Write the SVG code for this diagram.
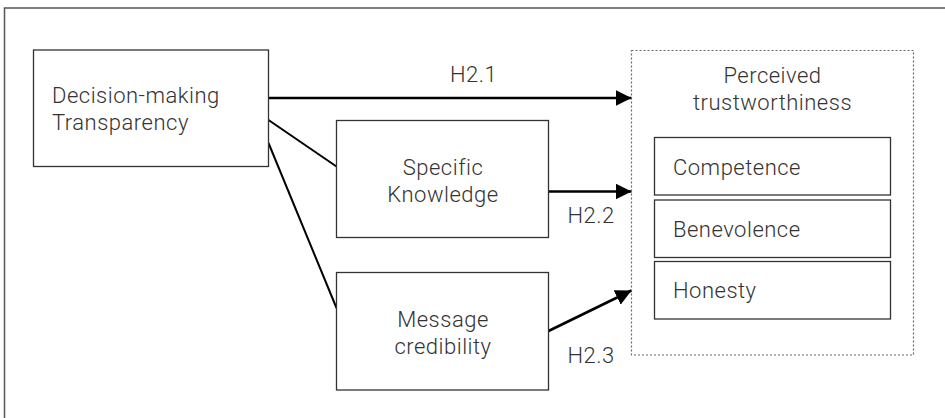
<svg xmlns="http://www.w3.org/2000/svg" width="945" height="418" viewBox="0 0 945 418">
  <style>
    .frame { fill: none; stroke: #555; stroke-width: 1.5; }
    .box { fill: #fff; stroke: #333; stroke-width: 1.3; }
    .group { fill: none; stroke: #666; stroke-width: 1.2; stroke-dasharray: 2 2; }
    .label { font-family: Roboto, "Liberation Sans", sans-serif; font-weight: 300; font-size: 22px; letter-spacing: 0.5px; fill: #333; }
    .mid { text-anchor: middle; }
    .link { fill: none; stroke: #000; stroke-width: 2; }
    .arrow { fill: none; stroke: #000; stroke-width: 2.6; }
  </style>
  <defs>
    <marker id="head" viewBox="0 0 16 16" refX="16" refY="8" markerWidth="16" markerHeight="16" markerUnits="userSpaceOnUse" orient="auto">
      <path d="M0,0 L16,8 L0,16 Z" fill="#000"/>
    </marker>
  </defs>

  <!-- page frame (top and left edges) -->
  <path class="frame" d="M4.5,418 V8 H945"/>

  <g id="connectors">
    <line class="link" x1="268.5" y1="120" x2="336.5" y2="166.5"/>
    <line class="link" x1="268.5" y1="143" x2="336.5" y2="308"/>
    <line class="arrow" x1="268.5" y1="98" x2="631.5" y2="98" marker-end="url(#head)"/>
    <line class="arrow" x1="548.5" y1="191.5" x2="631.5" y2="191.5" marker-end="url(#head)"/>
    <line class="arrow" x1="547.5" y1="331.5" x2="631.5" y2="290.5" marker-end="url(#head)"/>
    <text class="label" x="450" y="81.5">H2.1</text>
    <text class="label" x="567.5" y="223">H2.2</text>
    <text class="label" x="567.5" y="363">H2.3</text>
  </g>

  <g id="decision-transparency">
    <rect class="box" x="33.5" y="50" width="235" height="116.5"/>
    <text class="label" x="52" y="103">Decision-making</text>
    <text class="label" x="52" y="130">Transparency</text>
  </g>

  <g id="specific-knowledge">
    <rect class="box" x="336.5" y="120.5" width="212" height="117"/>
    <text class="label mid" x="443" y="174.5">Specific</text>
    <text class="label mid" x="443" y="202">Knowledge</text>
  </g>

  <g id="message-credibility">
    <rect class="box" x="336.5" y="272.5" width="212" height="117.5"/>
    <text class="label mid" x="443" y="326.5">Message</text>
    <text class="label mid" x="443" y="354">credibility</text>
  </g>

  <g id="perceived-trustworthiness">
    <rect class="group" x="631.5" y="50.5" width="282" height="304.5"/>
    <text class="label mid" x="772.5" y="82.5">Perceived</text>
    <text class="label mid" x="772.5" y="110">trustworthiness</text>
  </g>

  <g id="competence">
    <rect class="box" x="654.5" y="137.5" width="236" height="57.5"/>
    <text class="label" x="673" y="175">Competence</text>
  </g>

  <g id="benevolence">
    <rect class="box" x="654.5" y="200" width="236" height="57.5"/>
    <text class="label" x="673" y="236.5">Benevolence</text>
  </g>

  <g id="honesty">
    <rect class="box" x="654.5" y="261.5" width="236" height="57.5"/>
    <text class="label" x="673" y="298">Honesty</text>
  </g>
</svg>
